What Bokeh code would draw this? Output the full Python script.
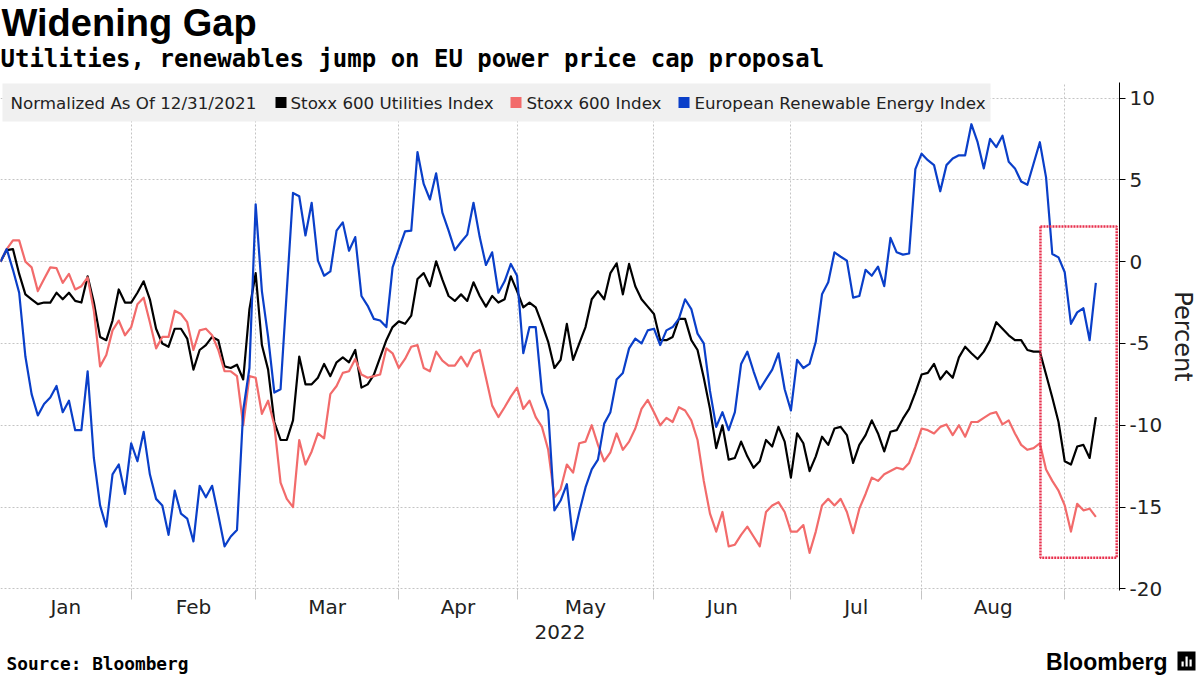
import pandas as pd
from bokeh.plotting import figure
from bokeh.layouts import column
from bokeh.models import Range1d, FixedTicker, Label, BoxAnnotation
from bokeh.core.properties import value
from bokeh.embed import file_html
from bokeh.resources import INLINE

# ---------------- data (normalized % change since 12/31/2021) ----------------
utilities = [
    0, 0.7, 0.77, -0.75, -2.0, -2.3, -2.6, -2.5, -2.5, -1.9,
    -2.3, -1.9, -2.4, -2.5, -0.9, -2.5, -4.6, -4.8, -3.6, -1.7,
    -2.5, -2.5, -1.9, -1.2, -2.3, -4.1, -5.0, -5.2, -4.1, -4.1,
    -4.7, -6.6, -5.4, -5.1, -4.6, -4.8, -6.4, -6.5, -6.3, -7.2,
    -2.9, -0.7, -5.1, -6.6, -9.8, -10.9, -10.9, -9.7, -5.8, -7.5,
    -7.5, -7.1, -6.25, -7.0, -6.15, -5.85, -6.15, -5.4, -7.7, -7.5,
    -6.9, -5.85, -4.8, -4.0, -3.65, -3.8, -3.3, -1.06, -0.7, -1.5,
    0.02, -1.1, -2.1, -2.4, -2.0, -2.4, -1.26, -2.1, -2.75, -2.1,
    -2.5, -2.3, -0.9, -1.8, -2.8, -2.5, -2.8, -3.8, -4.9, -6.5,
    -6.0, -3.8, -6.0, -5.0, -4.0, -2.3, -1.8, -2.3, -0.7, -0.1,
    -2.0, -0.14, -1.5, -2.3, -2.75, -3.2, -4.8, -4.8, -4.6, -3.5,
    -3.5, -4.8, -5.4, -7.1, -9.0, -11.4, -10.0, -12.1, -12.0, -11.0,
    -11.9, -12.6, -12.2, -10.9, -11.3, -10.1, -11.0, -13.2, -10.5, -11.1,
    -12.8, -11.9, -10.7, -11.2, -10.2, -10.1, -10.6, -12.3, -11.2, -10.6,
    -9.7, -10.5, -11.6, -10.4, -10.3, -9.6, -9.0, -8.0, -6.9, -6.8,
    -6.25, -7.2, -6.7, -7.1, -5.85, -5.2, -5.6, -5.95, -5.5, -4.8,
    -3.7, -4.1, -4.5, -4.8, -4.8, -5.4, -5.5, -5.5, -6.9, -8.3,
    -9.8, -12.2, -12.4, -11.3, -11.2, -12.0, -9.5,
]
stoxx600 = [
    0, 0.77, 1.3, 1.3, 0.0, -0.35, -1.8, -1.06, -0.35, -0.4,
    -1.3, -0.75, -1.7, -1.5, -0.96, -3.0, -6.4, -5.7, -4.2, -3.6,
    -4.5, -4.0, -2.6, -2.2, -3.7, -5.3, -4.6, -4.6, -3.0, -3.2,
    -3.7, -5.4, -4.2, -4.1, -4.5, -5.4, -6.7, -6.7, -7.0, -10.0,
    -7.0, -7.1, -9.3, -8.5, -10.0, -13.5, -14.5, -15.0, -10.9, -12.4,
    -11.6, -10.5, -10.8, -8.1, -7.6, -6.8, -6.7, -5.95, -6.9, -7.1,
    -7.0, -6.9, -5.3, -5.6, -6.5, -5.95, -5.2, -5.1, -6.5, -6.7,
    -5.5, -6.05, -6.35, -6.35, -5.8, -6.4, -5.6, -5.4, -7.1, -8.8,
    -9.5, -8.9, -8.25, -7.7, -9.0, -8.5, -9.5, -10.1, -11.5, -14.4,
    -13.9, -12.4, -12.9, -11.1, -11.0, -10.0, -11.2, -12.2, -11.65, -10.5,
    -11.5, -11.0, -10.2, -9.0, -8.45, -9.2, -10.0, -9.55, -9.8, -8.9,
    -9.1, -9.7, -10.9, -13.4, -15.4, -16.5, -15.3, -17.4, -17.3, -16.7,
    -16.2, -16.8, -17.4, -15.3, -14.9, -14.7, -15.3, -16.5, -16.5, -16.1,
    -17.8, -16.5, -14.9, -14.5, -14.9, -14.5, -15.3, -16.6, -15.1, -14.2,
    -13.2, -13.4, -13.0, -12.8, -12.6, -12.7, -12.3, -11.3, -10.2, -10.3,
    -10.5, -10.1, -9.95, -10.6, -10.0, -10.7, -9.8, -9.8, -9.55, -9.3,
    -9.2, -9.95, -9.7, -10.5, -11.2, -11.5, -11.4, -11.1, -12.7, -13.4,
    -14.0, -14.9, -16.5, -14.8, -15.2, -15.1, -15.6,
]
renewables = [
    0, 0.77, -0.5, -1.9, -5.8, -8.1, -9.4, -8.7, -8.3, -7.6,
    -9.2, -8.5, -10.3, -10.3, -6.7, -12.0, -14.9, -16.2, -13.0, -12.4,
    -14.2, -11.1, -12.2, -10.4, -13.0, -14.5, -14.9, -16.7, -14.0, -15.4,
    -15.7, -17.1, -13.7, -14.4, -13.7, -15.5, -17.4, -16.8, -16.4, -9.1,
    -6.5, 3.5, -1.8, -4.6, -8.0, -7.8, -1.8, 4.2, 4.0, 1.6,
    3.6, 0.06, -0.86, -0.6, 1.9, 2.4, 0.67, 1.5, -2.1, -2.7,
    -3.5, -3.6, -4.0, -0.35, 0.77, 1.85, 1.9, 6.7, 4.75, 3.8,
    5.4, 3.0, 1.9, 0.7, 1.2, 1.65, 3.6, 1.5, -0.2, 0.57,
    -1.9, -1.2, -0.14, -0.86, -5.6, -4.0, -4.0, -8.0, -9.1, -15.2,
    -14.6, -13.6, -17.0, -15.3, -13.8, -12.7, -12.1, -9.9, -9.2, -7.2,
    -6.8, -5.3, -4.7, -5.0, -4.2, -4.1, -5.1, -4.2, -4.0, -3.5,
    -2.3, -2.9, -4.4, -5.0, -7.9, -10.1, -9.2, -10.3, -9.2, -6.25,
    -5.5, -6.7, -7.8, -7.2, -6.6, -5.6, -7.8, -9.1, -6.0, -6.5,
    -6.25, -4.9, -2.0, -1.26, 0.57, 0.3, 0.06, -2.2, -2.1, -0.5,
    -0.86, -0.3, -1.5, 1.45, 0.57, 0.43, 0.5, 5.66, 6.6, 6.2,
    5.9, 4.3, 5.9, 6.3, 6.5, 6.5, 8.4, 7.3, 5.7, 7.5,
    7.0, 7.7, 6.1, 5.7, 4.9, 4.7, 6.0, 7.3, 5.15, 0.47,
    0.26, -0.65, -3.8, -3.1, -2.85, -4.8, -1.3,
]
series_names = ["Stoxx 600 Utilities Index", "Stoxx 600 Index",
                "European Renewable Energy Index"]
month_labels = ["Jan", "Feb", "Mar", "Apr", "May", "Jun", "Jul", "Aug"]
y_ticks = [-20, -15, -10, -5, 0, 5, 10]
year_label = "2022"
legend_title = "Normalized As Of 12/31/2021"
title_text = "Widening Gap"
subtitle_text = "Utilities, renewables jump on EU power price cap proposal"
source_text = "Source: Bloomberg"
brand_text = "Bloomberg"
highlight_start = "2022-08-25"
highlight_top, highlight_bottom = 2.15, -18.1

# ---------------- trading calendar (x = trading-day index) ----------------
days = [pd.Timestamp("2021-12-31")] + list(
    pd.bdate_range("2022-01-03", "2022-09-07", freq="C",
                   holidays=["2022-04-15", "2022-04-18"]))
n = min(len(days), len(utilities), len(stoxx600), len(renewables))
idx = list(range(n))

month_ends = []
for m in range(1, 9):
    month_ends.append(max(i for i, d in enumerate(days)
                          if d.year == 2022 and d.month == m))
prev = [0] + month_ends[:-1]
month_mids = [(a + b) / 2 for a, b in zip(prev, month_ends)]
hl_left = next(i for i, d in enumerate(days) if d >= pd.Timestamp(highlight_start))

X_MAX = 179.8
FONT = "DejaVu Sans"
TXT = "#222222"
colors = ["#000000", "#f26b6b", "#0a3fc9"]

# ---------------- header ----------------
top = figure(width=1200, height=80, x_range=Range1d(0, 1200), y_range=Range1d(0, 80),
             output_backend="svg", toolbar_location=None, x_axis_type=None,
             y_axis_type=None, min_border=0, outline_line_color=None,
             frame_align=False)
top.grid.visible = False
top.text(x=[1], y=[58], text=[title_text], text_font=value("Liberation Sans"),
         text_font_style="bold", text_font_size="38px", text_color="black",
         text_baseline="middle")
top.text(x=[0], y=[22], text=[subtitle_text], text_font=value("DejaVu Sans Mono"),
         text_font_style="bold", text_font_size="24px", text_color="black",
         text_baseline="middle")

# ---------------- main chart ----------------
p = figure(width=1200, height=570, x_range=Range1d(0, X_MAX),
           y_range=Range1d(-20.1, 10.95), output_backend="svg",
           toolbar_location=None, y_axis_location="right",
           min_border_left=0, min_border_right=80, min_border_top=2,
           min_border_bottom=60, outline_line_color=None, frame_align=False)

p.xgrid.ticker = FixedTicker(ticks=[0] + month_ends)
p.ygrid.ticker = FixedTicker(ticks=y_ticks)
for g in (p.xgrid, p.ygrid):
    g.grid_line_color = "#c4c4c4"
    g.grid_line_dash = "2 2"
    g.grid_line_width = 1

xa = p.xaxis[0]
xa.ticker = FixedTicker(ticks=month_mids, minor_ticks=month_ends)
xa.major_label_overrides = {m: lab for m, lab in zip(month_mids, month_labels)}
xa.axis_line_color = None
xa.major_tick_line_color = None
xa.major_tick_in = 0
xa.major_tick_out = 0
xa.minor_tick_line_color = "#c4c4c4"
xa.minor_tick_in = 0
xa.minor_tick_out = 9
xa.major_label_text_font = FONT
xa.major_label_text_font_size = "20px"
xa.major_label_text_color = TXT
xa.major_label_standoff = -5
xa.axis_label = year_label
xa.axis_label_text_font = FONT
xa.axis_label_text_font_size = "20px"
xa.axis_label_text_font_style = "normal"
xa.axis_label_text_color = TXT
xa.axis_label_standoff = 3

ya = p.yaxis[0]
ya.ticker = FixedTicker(ticks=y_ticks)
ya.major_label_overrides = {t: str(t) for t in y_ticks}
ya.axis_line_color = "black"
ya.major_tick_line_color = "black"
ya.major_tick_in = 0
ya.major_tick_out = 6
ya.minor_tick_line_color = None
ya.major_label_text_font = FONT
ya.major_label_text_font_size = "20px"
ya.major_label_text_color = TXT
ya.major_label_standoff = 4
ya.axis_label = "Percent"
ya.axis_label_text_font = FONT
ya.axis_label_text_font_size = "24px"
ya.axis_label_text_font_style = "normal"
ya.axis_label_text_color = TXT
ya.axis_label_standoff = 4

for s, c in zip([utilities, stoxx600, renewables], colors):
    p.line(x=idx, y=s[:n], line_color=c, line_width=2.2, line_join="round")

# highlighted window
p.add_layout(BoxAnnotation(left=hl_left + 0.1, right=X_MAX - 0.45,
                           top=highlight_top, bottom=highlight_bottom,
                           fill_alpha=0, line_color="#e8304d", line_alpha=1,
                           line_width=2.5, line_dash="2 1"))

# legend strip (screen units measured from the frame's bottom-left, y up)
FB = 508  # frame height in px
def sy(y_from_top):
    return FB - y_from_top

p.add_layout(BoxAnnotation(left=2, right=990, top=sy(1), bottom=sy(39),
                           left_units="screen", right_units="screen",
                           top_units="screen", bottom_units="screen",
                           fill_color="#f0f0f0", fill_alpha=1, line_color=None))
p.add_layout(Label(x=10, y=sy(20), x_units="screen", y_units="screen",
                   text=legend_title, text_font=FONT, text_font_size="16.7px",
                   text_color=TXT, text_baseline="middle"))
for sq_x, tx_x, c, nm in zip([275, 510, 678], [290, 526, 694], colors, series_names):
    p.add_layout(BoxAnnotation(left=sq_x, right=sq_x + 11, top=sy(14.5),
                               bottom=sy(25.5), left_units="screen",
                               right_units="screen", top_units="screen",
                               bottom_units="screen", fill_color=c, fill_alpha=1,
                               line_color=None))
    p.add_layout(Label(x=tx_x, y=sy(20), x_units="screen", y_units="screen",
                       text=nm, text_font=FONT, text_font_size="16.7px",
                       text_color=TXT, text_baseline="middle"))

# ---------------- footer ----------------
foot = figure(width=1200, height=25, x_range=Range1d(0, 1200), y_range=Range1d(0, 25),
              output_backend="svg", toolbar_location=None, x_axis_type=None,
              y_axis_type=None, min_border=0, outline_line_color=None,
              frame_align=False)
foot.grid.visible = False
foot.text(x=[6], y=[12], text=[source_text], text_font=value("DejaVu Sans Mono"),
          text_font_style="bold", text_font_size="17.8px", text_color="black",
          text_baseline="middle")
foot.text(x=[1167], y=[14], text=[brand_text], text_font=value("Liberation Sans"),
          text_font_style="bold", text_font_size="23px", text_color="black",
          text_align="right", text_baseline="middle")
foot.add_layout(BoxAnnotation(left=1177, right=1195, top=24, bottom=5,
                              fill_color="black", fill_alpha=1, line_color=None))
for bl, bt in zip([1181, 1185, 1189], [14, 19, 16]):
    foot.add_layout(BoxAnnotation(left=bl, right=bl + 2.2, top=bt, bottom=9,
                                  fill_color="white", fill_alpha=1, line_color=None))

layout = column(top, p, foot, spacing=0)
open("out.html", "w").write(file_html(layout, INLINE))
